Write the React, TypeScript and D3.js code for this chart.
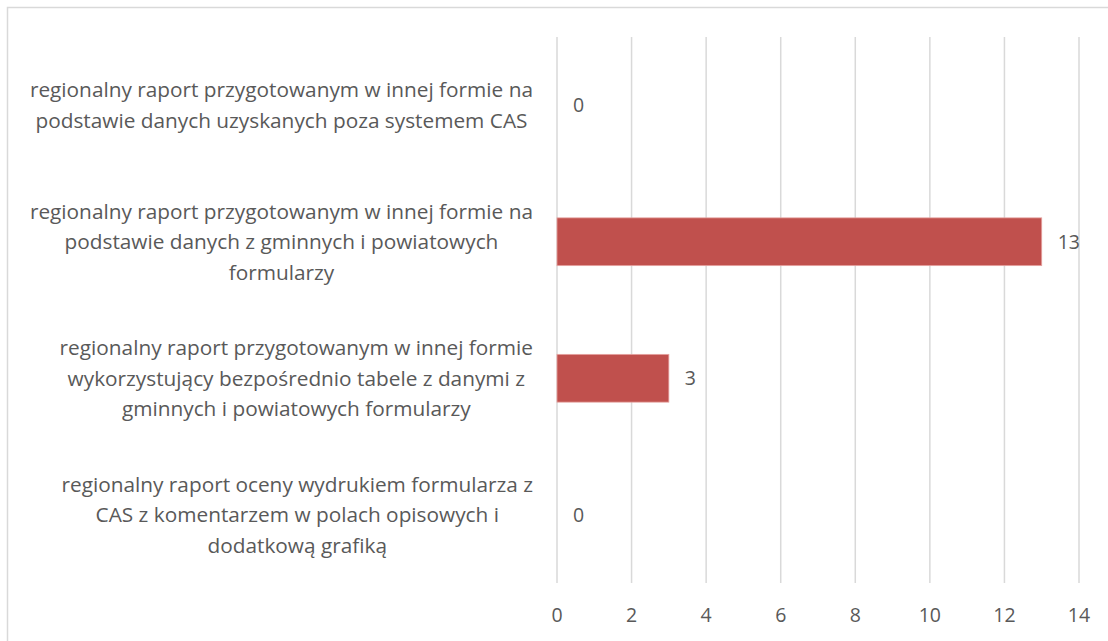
import React, { useEffect, useRef } from "react";
import { select, scaleLinear, scaleBand, range } from "d3";

// categories top to bottom, each split into the lines as wrapped in the chart
const categories = [
  ["regionalny raport przygotowanym w innej formie na", "podstawie danych uzyskanych poza systemem CAS"],
  ["regionalny raport przygotowanym w innej formie na", "podstawie danych z gminnych i powiatowych", "formularzy"],
  ["regionalny raport przygotowanym w innej formie", "wykorzystujący bezpośrednio tabele z danymi z", "gminnych i powiatowych formularzy"],
  ["regionalny raport oceny wydrukiem formularza z", "CAS z komentarzem w polach opisowych i", "dodatkową grafiką"],
];
const values = [0, 13, 3, 0];
const xTicks = [0, 2, 4, 6, 8, 10, 12, 14];

const W = 1108;
const H = 641;
const FONT = "'Open Sans', 'DejaVu Sans', sans-serif";
const TEXT = "#595959";
const GRID = "#d9d9d9";
const BAR = "#c0504d";

function BarChart() {
  const svgRef = useRef<SVGSVGElement>(null);

  useEffect(() => {
    const svg = select(svgRef.current);
    svg.selectAll("*").remove();

    const left = 557;
    const right = 1079;
    const top = 37;
    const bottom = 583;

    const x = scaleLinear().domain([0, 14]).range([left, right]);
    const y = scaleBand<number>()
      .domain(range(categories.length))
      .range([top, bottom])
      .paddingInner(0.65)
      .paddingOuter(0.325);

    // chart border
    svg
      .append("rect")
      .attr("x", 7.5)
      .attr("y", 7.5)
      .attr("width", W + 20)
      .attr("height", H + 20)
      .attr("fill", "#fff")
      .attr("stroke", GRID)
      .attr("stroke-width", 1.5);

    // gridlines
    svg
      .selectAll(".grid")
      .data(xTicks)
      .join("line")
      .attr("class", "grid")
      .attr("x1", (d) => x(d))
      .attr("x2", (d) => x(d))
      .attr("y1", top)
      .attr("y2", bottom)
      .attr("stroke", GRID)
      .attr("stroke-width", 1.5);

    // tick labels
    svg
      .selectAll(".tick")
      .data(xTicks)
      .join("text")
      .attr("class", "tick")
      .attr("x", (d) => x(d))
      .attr("y", 615)
      .attr("dy", "0.35em")
      .attr("text-anchor", "middle")
      .attr("font-family", FONT)
      .attr("font-size", 19.5)
      .attr("fill", TEXT)
      .text((d) => d);

    // bars
    svg
      .selectAll(".bar")
      .data(values)
      .join("rect")
      .attr("class", "bar")
      .attr("x", x(0))
      .attr("y", (_, i) => y(i)!)
      .attr("width", (d) => x(d) - x(0))
      .attr("height", y.bandwidth())
      .attr("fill", BAR)
      .attr("stroke", (d) => (d > 0 ? "#e6a3a1" : "none"))
      .attr("stroke-width", 0.8);

    // value labels
    svg
      .selectAll(".val")
      .data(values)
      .join("text")
      .attr("class", "val")
      .attr("x", (d) => x(d) + 16)
      .attr("y", (_, i) => y(i)! + y.bandwidth() / 2)
      .attr("dy", "0.35em")
      .attr("font-family", FONT)
      .attr("font-size", 19.5)
      .attr("fill", TEXT)
      .text((d) => d);

    // category labels: block right-aligned at 533, lines centred inside block
    const lineH = 30.5;
    const labelRight = 533;
    categories.forEach((lines, i) => {
      const cy = y(i)! + y.bandwidth() / 2;
      const g = svg.append("g");
      const texts = lines.map((line, j) =>
        g
          .append("text")
          .attr("y", cy + (j - (lines.length - 1) / 2) * lineH)
          .attr("dy", "0.35em")
          .attr("text-anchor", "middle")
          .attr("font-family", FONT)
          .attr("font-size", 20.8)
          .attr("fill", TEXT)
          .text(line)
      );
      const maxW = Math.max(...texts.map((t) => (t.node() as SVGTextElement).getComputedTextLength()));
      texts.forEach((t) => t.attr("x", labelRight - maxW / 2));
    });
  }, []);

  return (
    <svg
      ref={svgRef}
      width={W}
      height={H}
      style={{ position: "absolute", left: 0, top: 0, background: "#fff" }}
    />
  );
}

export default function App() {
  return <BarChart />;
}
